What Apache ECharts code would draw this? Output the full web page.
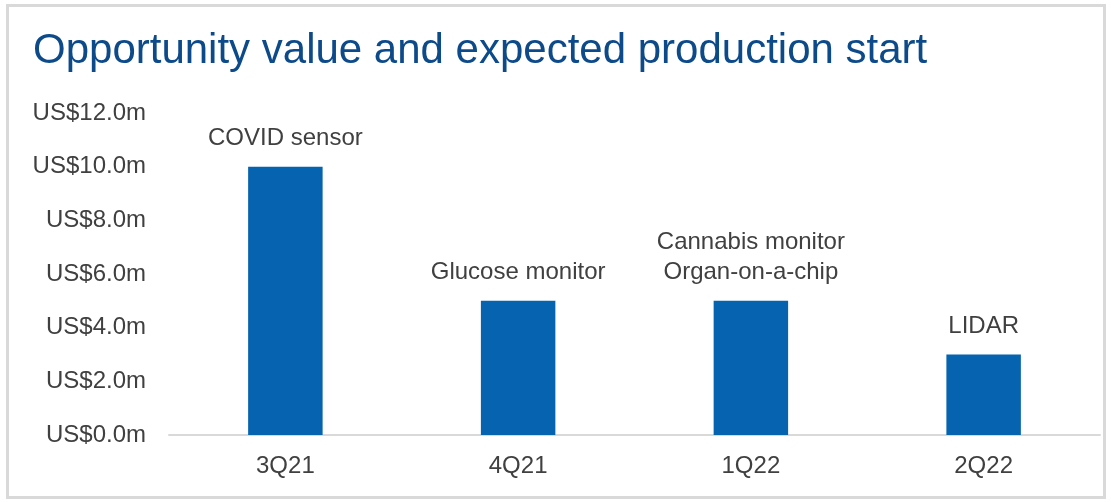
<!DOCTYPE html>
<html>
<head>
<meta charset="utf-8">
<script src="https://cdn.jsdelivr.net/npm/echarts@6/dist/echarts.min.js"></script>
<style>
  html, body { margin: 0; padding: 0; background: #fff; }
  #main { width: 1111px; height: 502px; }
</style>
</head>
<body>
<div id="main"></div>
<script>
// data
var quarters = ['3Q21', '4Q21', '1Q22', '2Q22'];
var values = [10, 5, 5, 3]; // US$ m
var products = ['COVID sensor', 'Glucose monitor', 'Cannabis monitor\nOrgan-on-a-chip', 'LIDAR'];

var myChart = echarts.init(document.getElementById('main'));
var textColor = '#404040';
var font = 'Arial, "Liberation Sans", sans-serif';

var option = {
    animation: false,
    backgroundColor: '#fff',
    title: {
        text: 'Opportunity value and expected production start',
        left: 28,
        top: 25,
        textStyle: {
            color: '#0d4a8a',
            fontSize: 42,
            fontWeight: 'normal',
            fontFamily: font
        }
    },
    graphic: [{
        type: 'rect',
        silent: true,
        shape: { x: 7.5, y: 5.5, width: 1097, height: 492 },
        style: { fill: 'none', stroke: '#d9d9d9', lineWidth: 3 }
    }],
    grid: {
        left: 169,
        right: 11,
        top: 113,
        bottom: 67
    },
    xAxis: {
        type: 'category',
        data: quarters,
        axisLine: { lineStyle: { color: '#d9d9d9', width: 2 } },
        axisTick: { show: false },
        axisLabel: {
            color: textColor,
            fontSize: 24,
            fontFamily: font,
            margin: 19
        }
    },
    yAxis: {
        type: 'value',
        min: 0,
        max: 12,
        interval: 2,
        splitLine: { show: false },
        axisLine: { show: false },
        axisTick: { show: false },
        axisLabel: {
            color: textColor,
            fontSize: 24,
            fontFamily: font,
            margin: 23,
            formatter: function (v) {
                return 'US$' + v.toFixed(1) + 'm';
            }
        }
    },
    series: [
        {
            type: 'bar',
            data: values,
            barWidth: '32%',
            itemStyle: { color: '#0563b0' },
            label: {
                show: true,
                position: 'top',
                distance: 13,
                color: textColor,
                fontSize: 24,
                lineHeight: 30,
                fontFamily: font,
                formatter: function (arg) {
                    return products[arg.dataIndex];
                }
            }
        }
    ]
};
myChart.setOption(option);
</script>
</body>
</html>
